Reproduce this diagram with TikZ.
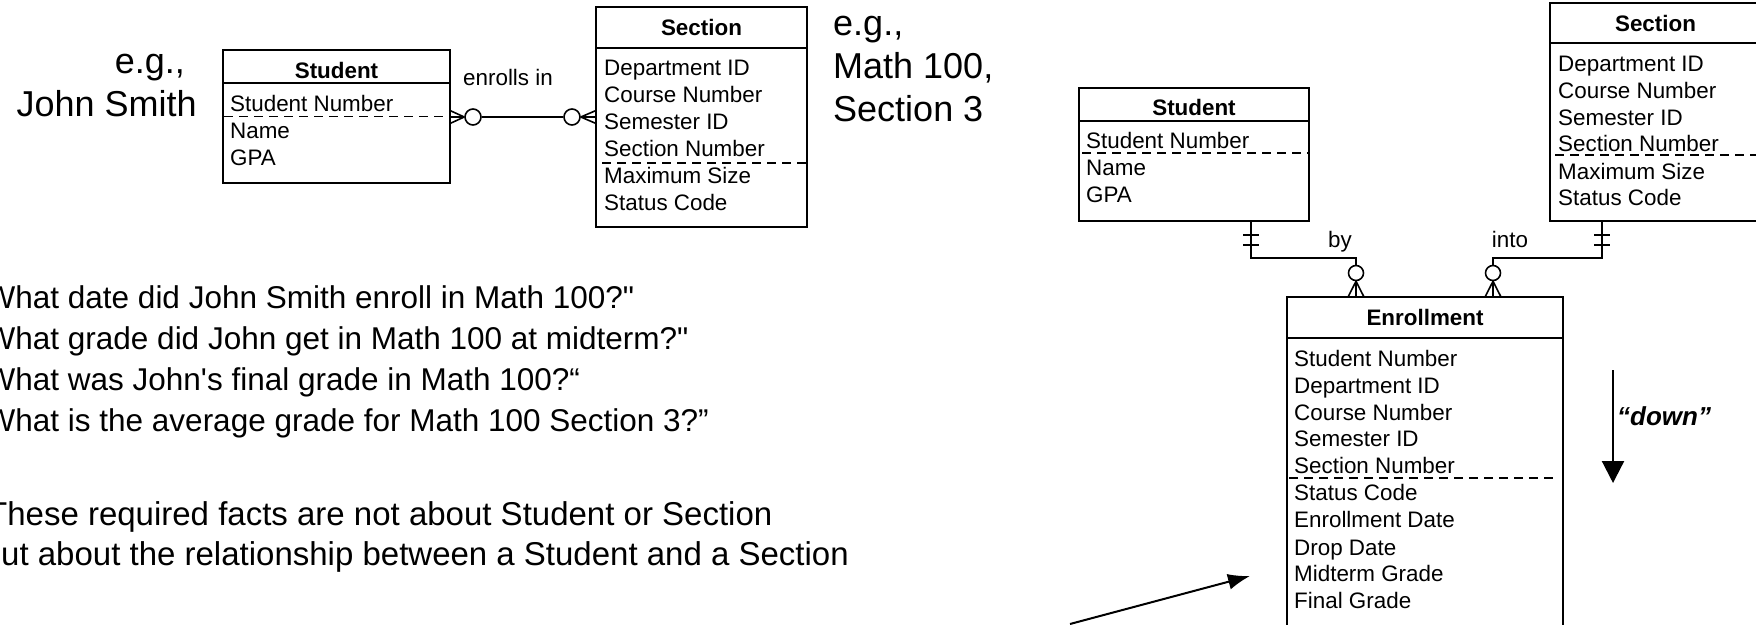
\documentclass[tikz,border=0pt]{standalone}
\usepackage{fontspec}
\setmainfont{Liberation Sans}
\usetikzlibrary{arrows.meta,calc}
\begin{document}
\begin{tikzpicture}[x=1pt,y=-1pt,
  ent/.style={draw, line width=1.6pt, inner sep=0pt, outer sep=0pt, anchor=north west, rectangle},
  attr/.style={anchor=base west, inner sep=0pt, font=\fontsize{22.4}{27}\selectfont},
  ttl/.style={anchor=base, inner sep=0pt, font=\fontsize{22.4}{27}\selectfont\bfseries},
  sep/.style={line width=1.6pt},
  keyline/.style={line width=1.4pt, dash pattern=on 9pt off 6pt},
  big/.style={inner sep=0pt, font=\fontsize{36}{43}\selectfont},
  prose/.style={inner sep=0pt, anchor=base west, font=\fontsize{31.5}{41}\selectfont},
  prose2/.style={inner sep=0pt, anchor=base west, font=\fontsize{33}{41}\selectfont},
  rel/.style={line width=1.6pt},
  opt/.style={circle, draw, line width=1.6pt, inner sep=0pt, minimum size=16pt},
  optv/.style={circle, draw, line width=1.6pt, inner sep=0pt, minimum size=15pt},
  lbl/.style={inner sep=0pt, anchor=base, font=\fontsize{22.4}{27}\selectfont},
  note/.style={inner sep=0pt, anchor=base west, font=\fontsize{26}{30}\selectfont\bfseries\itshape},
]
\useasboundingbox (0,0) rectangle (1756,624);

% ---------- left: Student ----------
\node[ent, minimum width=227pt, minimum height=133pt] (stuA) at (223,50) {};
\draw[sep] (223,83) -- (450,83);
\node[ttl] (stuAt) at (336.5,78) {Student};
\node[attr] (stuA1) at (230,111) {Student Number};
\node[attr] (stuA2) at (230,138) {Name};
\node[attr] (stuA3) at (230,165) {GPA};
\draw[keyline] (224,116.5) -- (450,116.5);

% ---------- left: Section ----------
\node[ent, minimum width=211pt, minimum height=220pt] (secA) at (596,7) {};
\draw[sep] (596,48) -- (807,48);
\node[ttl] (secAt) at (701.5,35) {Section};
\node[attr] (secA1) at (604,75) {Department ID};
\node[attr] (secA2) at (604,102) {Course Number};
\node[attr] (secA3) at (604,129) {Semester ID};
\node[attr] (secA4) at (604,156) {Section Number};
\node[attr] (secA5) at (604,183) {Maximum Size};
\node[attr] (secA6) at (604,210) {Status Code};
\draw[keyline] (602,163) -- (810,163);

% ---------- left relationship ----------
\node[opt] (o1) at (473,117) {};
\node[opt] (o2) at (572,117) {};
\draw[rel] (o1) -- (o2);
\draw[rel] (o1.west) -- (450,110.5);
\draw[rel] (o1.west) -- (450,117);
\draw[rel] (o1.west) -- (450,123.5);
\draw[rel] (o2.east) -- (596,110.5);
\draw[rel] (o2.east) -- (596,117);
\draw[rel] (o2.east) -- (596,123.5);
\node[lbl] (enr) at (508,85) {enrolls in};

% ---------- big notes ----------
\node[big, anchor=base east] (eg1) at (185,73) {e.g.,};
\node[big, anchor=base east] (js) at (197,116) {John Smith};
\node[big, anchor=base west] (eg2) at (833,35) {e.g.,};
\node[big, anchor=base west] (m100) at (833,78) {Math 100,};
\node[big, anchor=base west] (s3) at (833,121) {Section 3};

% ---------- questions ----------
\node[prose] (q1) at (-25,308) {“What date did John Smith enroll in Math 100?\textquotedbl};
\node[prose] (q2) at (-25,349) {“What grade did John get in Math 100 at midterm?\textquotedbl};
\node[prose] (q3) at (-25,390) {“What was John\textquotesingle s final grade in Math 100?“};
\node[prose] (q4) at (-25,431) {“What is the average grade for Math 100 Section 3?”};
\node[prose2] (f1) at (-13,525) {These required facts are not about Student or Section};
\node[prose2] (f2) at (-21,565) {But about the relationship between a Student and a Section};

\coordinate (ptail) at (1070,624);
\coordinate (ptip) at (1250,576);
\draw[line width=2pt, -{Latex[length=22pt,width=16pt]}] (ptail) -- (ptip);

% ---------- right: Student ----------
\node[ent, minimum width=230pt, minimum height=133pt] (stuB) at (1079,88) {};
\draw[sep] (1079,121) -- (1309,121);
\node[ttl] (stuBt) at (1194,115) {Student};
\node[attr] (stuB1) at (1086,148) {Student Number};
\node[attr] (stuB2) at (1086,175) {Name};
\node[attr] (stuB3) at (1086,202) {GPA};
\draw[keyline] (1082,153) -- (1309,153);

% ---------- right: Section ----------
\node[ent, minimum width=211pt, minimum height=218pt] (secB) at (1550,3) {};
\draw[sep] (1550,43) -- (1761,43);
\node[ttl] (secBt) at (1655.5,31) {Section};
\node[attr] (secB1) at (1558,71) {Department ID};
\node[attr] (secB2) at (1558,98) {Course Number};
\node[attr] (secB3) at (1558,125) {Semester ID};
\node[attr] (secB4) at (1558,151) {Section Number};
\node[attr] (secB5) at (1558,179) {Maximum Size};
\node[attr] (secB6) at (1558,205) {Status Code};
\draw[keyline] (1555,155) -- (1760,155);

% ---------- Enrollment ----------
\node[ent, minimum width=276pt, minimum height=340pt] (enrl) at (1287,297) {};
\draw[sep] (1287,338) -- (1563,338);
\node[ttl] (enrlt) at (1425,325) {Enrollment};
\node[attr] (e1) at (1294,366) {Student Number};
\node[attr] (e2) at (1294,393) {Department ID};
\node[attr] (e3) at (1294,420) {Course Number};
\node[attr] (e4) at (1294,446) {Semester ID};
\node[attr] (e5) at (1294,473) {Section Number};
\node[attr] (e6) at (1294,500) {Status Code};
\node[attr] (e7) at (1294,527) {Enrollment Date};
\node[attr] (e8) at (1294,555) {Drop Date};
\node[attr] (e9) at (1294,581) {Midterm Grade};
\node[attr] (e10) at (1294,608) {Final Grade};
\draw[keyline] (1289,478) -- (1556,478);

% ---------- right relationships ----------
\coordinate (byTop) at (1251,221);
\coordinate (intoTop) at (1602,221);
\node[optv] (o3) at (1356,273) {};
\node[optv] (o4) at (1493,273) {};
\draw[rel] (byTop) |- ($(o3.north)+(0,-6.5)$) -- (o3.north);
\draw[rel] (intoTop) |- ($(o4.north)+(0,-6.5)$) -- (o4.north);
\draw[rel] (1243,235) -- (1259,235);
\draw[rel] (1243,245) -- (1259,245);
\draw[rel] (1594,235) -- (1610,235);
\draw[rel] (1594,245) -- (1610,245);
\draw[rel] (o3.south) -- (1348,297);
\draw[rel] (o3.south) -- (1356,297);
\draw[rel] (o3.south) -- (1364,297);
\draw[rel] (o4.south) -- (1485,297);
\draw[rel] (o4.south) -- (1493,297);
\draw[rel] (o4.south) -- (1501,297);
\node[lbl] (by) at (1340,247) {by};
\node[lbl] (into) at (1510,247) {into};

% ---------- down arrow ----------
\coordinate (dtop) at (1613,370);
\coordinate (dtip) at (1613,483);
\draw[line width=2.2pt, -{Triangle[length=22pt,width=22pt]}] (dtop) -- (dtip);
\node[note] (down) at (1617,425) {“down”};
\end{tikzpicture}
\end{document}
